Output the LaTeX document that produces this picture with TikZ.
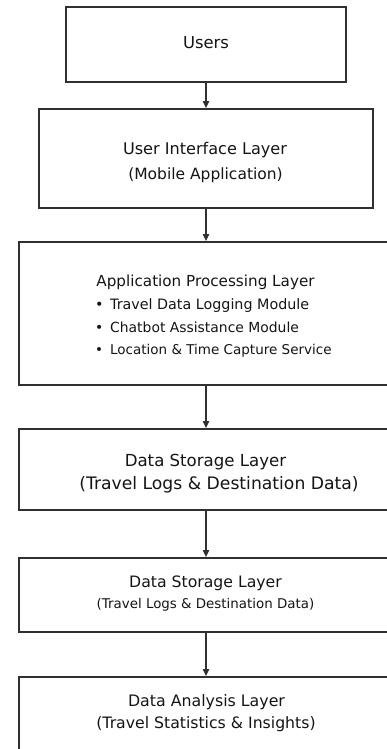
\documentclass[tikz,border=0pt]{standalone}
\usepackage{fontspec}
\setmainfont{DejaVu Sans}
\usetikzlibrary{arrows.meta}
\definecolor{edge}{HTML}{303030}
\definecolor{ink}{HTML}{151515}
\tikzset{
  layerbox/.style={draw=edge, line width=1.6pt, fill=white, rectangle, inner sep=0pt},
  txt/.style={inner sep=0pt, anchor=mid, text=ink},
  bul/.style={inner sep=0pt, anchor=mid west, text=ink},
  flow/.style={draw=edge, line width=1.6pt, -{Triangle[length=7pt,width=6pt]}}
}
\newcommand{\fs}[1]{\fontsize{#1}{#1}\selectfont}
\begin{document}
\begin{tikzpicture}[x=1pt,y=-1pt]
\useasboundingbox (0,0) rectangle (387,749);
\clip (0,0) rectangle (387,749);
\fill[white] (0,0) rectangle (387,749);
% boxes
\node[layerbox, minimum width=280pt, minimum height=75pt] (users) at (206,44.5) {};
\node[layerbox, minimum width=334pt, minimum height=99pt] (ui) at (206,158.5) {};
\node[layerbox, minimum width=374pt, minimum height=143pt] (app) at (206,313.5) {};
\node[layerbox, minimum width=374pt, minimum height=81pt] (ds1) at (206,469.5) {};
\node[layerbox, minimum width=374pt, minimum height=74pt] (ds2) at (206,595) {};
\node[layerbox, minimum width=374pt, minimum height=113pt] (da) at (206,733.5) {};
% texts
\node[txt] (tusers) at (206,46) {\fs{16.4}Users};
\node[txt] (tui1) at (205,151.5) {\fs{16.1}User Interface Layer};
\node[txt] (tui2) at (205.5,176.5) {\fs{15.5}(Mobile Application)};
\node[txt] (tapp) at (205.5,283.5) {\fs{15.2}Application Processing Layer};
\node[bul] (b1) at (95,307) {\fs{14.3}•\hspace{6.5pt}Travel Data Logging Module};
\node[bul] (b2) at (95,330) {\fs{13.9}•\hspace{6.8pt}Chatbot Assistance Module};
\node[bul] (b3) at (95,352) {\fs{13.5}•\hspace{7pt}Location \& Time Capture Service};
\node[txt] (tds1a) at (205.5,463.5) {\fs{16.6}Data Storage Layer};
\node[txt] (tds1b) at (219,486.5) {\fs{17.2}(Travel Logs \& Destination Data)};
\node[txt] (tds2a) at (205.5,584.5) {\fs{15.7}Data Storage Layer};
\node[txt] (tds2b) at (205.5,606) {\fs{13.4}(Travel Logs \& Destination Data)};
\node[txt] (tdaa) at (206.5,703.5) {\fs{15.8}Data Analysis Layer};
\node[txt] (tdab) at (206,725.5) {\fs{15.7}(Travel Statistics \& Insights)};
% connectors
\draw[flow] (users.south) -- (ui.north);
\draw[flow] (ui.south) -- (app.north);
\draw[flow] (app.south) -- (ds1.north);
\draw[flow] (ds1.south) -- (ds2.north);
\draw[flow] (ds2.south) -- (da.north);
\end{tikzpicture}
\end{document}
